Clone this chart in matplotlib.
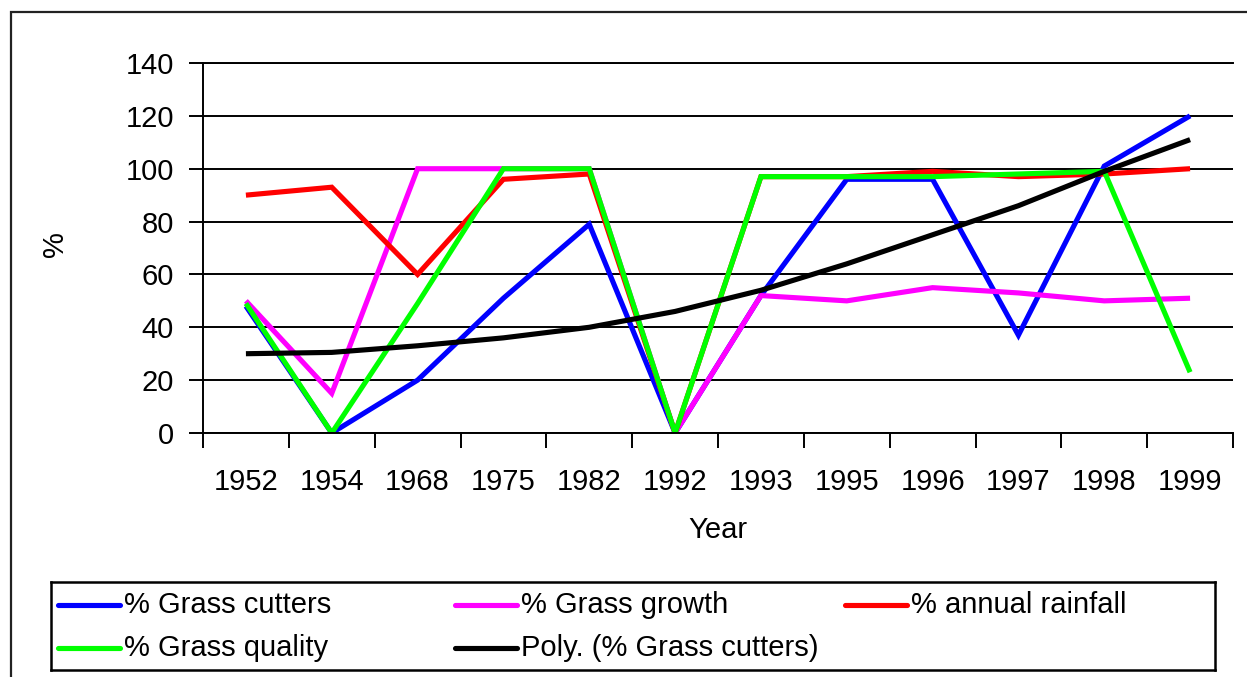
import matplotlib

matplotlib.use("Agg")
import matplotlib.pyplot as plt
from matplotlib.patches import Rectangle


YEARS = ["1952", "1954", "1968", "1975", "1982", "1992",
         "1993", "1995", "1996", "1997", "1998", "1999"]

GRASS_CUTTERS = [48, 0, 20, 51, 79, 0, 52, 96, 96, 37, 101, 120]
GRASS_GROWTH = [50, 15, 100, 100, 100, 0, 52, 50, 55, 53, 50, 51]
ANNUAL_RAINFALL = [90, 93, 60, 96, 98, 0, 97, 97, 99, 97, 98, 100]
GRASS_QUALITY = [49, 0, 49, 100, 100, 0, 97, 97, 97, 98, 99, 23]
POLY_CUTTERS = [30, 30.5, 33, 36, 40, 46, 54, 64, 75, 86, 99, 111]

SERIES = [
    ("% Grass cutters", GRASS_CUTTERS, "#0000ff"),
    ("% Grass growth", GRASS_GROWTH, "#ff00ff"),
    ("% annual rainfall", ANNUAL_RAINFALL, "#ff0000"),
    ("% Grass quality", GRASS_QUALITY, "#00ff00"),
    ("Poly. (% Grass cutters)", POLY_CUTTERS, "#000000"),
]

W, H = 1247, 677
FONT = 21
LINE_W = 3.7

plt.rcParams["font.family"] = ["Liberation Sans", "DejaVu Sans"]

fig = plt.figure(figsize=(W / 100, H / 100), dpi=100)

# outer chart frame (left and top edges visible)
fig.patches.append(Rectangle((11 / W, -0.05), 1.2, 1 - 12 / H + 0.05,
                             transform=fig.transFigure, fill=False,
                             edgecolor="#222222", linewidth=1.6))

ax = fig.add_axes([203 / W, 1 - 433 / H, (1233 - 203) / W, (433 - 63) / H])
x = list(range(len(YEARS)))
for label, values, color in SERIES:
    ax.plot(x, values, color=color, linewidth=LINE_W, label=label,
            solid_joinstyle="miter", solid_capstyle="butt")

ax.set_xlim(-0.5, len(YEARS) - 0.5)
ax.set_ylim(0, 140)
ax.set_yticks(range(0, 141, 20))
ax.yaxis.grid(True, color="black", linewidth=1.4)
ax.set_axisbelow(True)
ax.tick_params(axis="y", direction="out", length=10, width=1.4,
               pad=11, labelsize=FONT)

ax.set_xticks(x)
ax.set_xticklabels(YEARS)
ax.set_xticks([i - 0.5 for i in range(len(YEARS) + 1)], minor=True)
ax.tick_params(axis="x", which="major", length=0, pad=25, labelsize=FONT)
ax.tick_params(axis="x", which="minor", direction="out", length=11, width=1.4)

ax.spines["right"].set_visible(False)
for side in ["left", "bottom", "top"]:
    ax.spines[side].set_linewidth(1.4)

ax.set_xlabel("Year", fontsize=FONT)
ax.xaxis.label.set_va("center")
ax.xaxis.set_label_coords(0.5, -0.262)
ax.set_ylabel("%", fontsize=FONT)
ax.yaxis.label.set_va("center")
ax.yaxis.set_label_coords(-0.144, 0.51)

# legend box drawn by hand to match the uneven column layout
lx0, lx1, ly0, ly1 = 51, 1215, 582, 670
lax = fig.add_axes([lx0 / W, 1 - ly1 / H, (lx1 - lx0) / W, (ly1 - ly0) / H])
lax.set_xlim(lx0, lx1)
lax.set_ylim(ly1, ly0)
lax.set_xticks([])
lax.set_yticks([])
for spine in lax.spines.values():
    spine.set_linewidth(1.8)

slots = [(58, 605), (455, 605), (845, 605), (58, 648), (455, 648)]
for (label, _, color), (sx, sy) in zip(SERIES, slots):
    lax.plot([sx, sx + 62], [sy, sy], color=color, linewidth=LINE_W,
             solid_capstyle="round")
    lax.text(sx + 66, sy, label, fontsize=FONT, va="center", ha="left")

fig.savefig("out.png", dpi=100)
